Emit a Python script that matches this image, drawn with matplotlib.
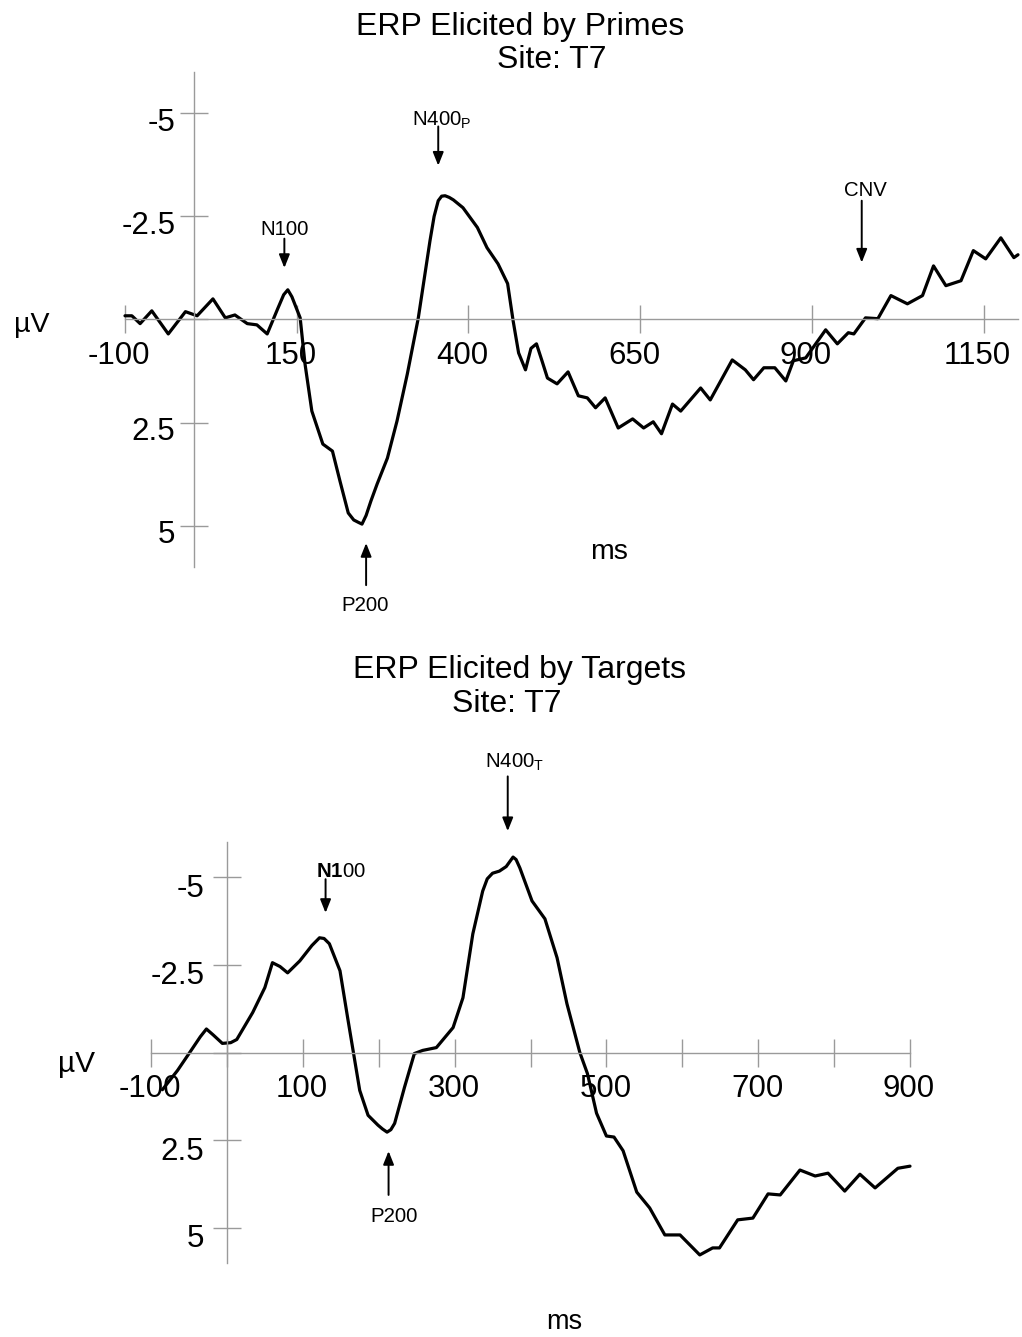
import matplotlib
matplotlib.use("Agg")
import matplotlib.pyplot as plt
from matplotlib.transforms import ScaledTranslation

plt.rcParams['font.family'] = ['Liberation Sans', 'DejaVu Sans']
plt.rcParams['mathtext.fontset'] = 'custom'
plt.rcParams['mathtext.rm'] = 'Liberation Sans'
plt.rcParams['mathtext.bf'] = 'Liberation Sans:bold'

# ---------------- data: primes (top) ----------------
primes_ms = [-100, -90, -78, -61, -37, -12, 5, 28, 46, 60, 78, 92, 107, 122, 131, 137,
             143, 155, 162, 172, 188, 202, 213, 225, 233, 240, 245, 251, 258, 267, 282,
             296, 311, 327, 344, 350, 356, 361, 366, 372, 378, 392, 413, 427, 443, 457,
             465, 473, 483, 491, 499, 507, 515, 529, 545, 560, 573, 585, 599, 618, 639,
             655, 669, 681, 697, 709, 738, 752, 784, 803, 815, 830, 846, 862, 873, 891,
             920, 937, 953, 961, 978, 996, 1015, 1039, 1061, 1077, 1095, 1117, 1135,
             1153, 1175, 1194, 1200]
primes_uv = [-0.09, -0.09, 0.10, -0.21, 0.35, -0.19, -0.09, -0.50, -0.04, -0.11, 0.10,
             0.13, 0.35, -0.25, -0.60, -0.72, -0.55, -0.04, 1.07, 2.22, 3.02, 3.19,
             3.92, 4.69, 4.86, 4.92, 4.96, 4.75, 4.40, 3.99, 3.36, 2.46, 1.32, -0.04,
             -1.91, -2.50, -2.88, -2.99, -3.00, -2.96, -2.90, -2.71, -2.23, -1.74,
             -1.35, -0.87, 0.03, 0.81, 1.22, 0.70, 0.59, 1.00, 1.42, 1.56, 1.27, 1.85,
             1.90, 2.14, 1.90, 2.63, 2.41, 2.63, 2.48, 2.77, 2.05, 2.22, 1.66, 1.95,
             0.98, 1.22, 1.46, 1.17, 1.17, 1.49, 1.00, 0.93, 0.25, 0.59, 0.32, 0.35,
             -0.04, -0.02, -0.58, -0.38, -0.58, -1.30, -0.82, -0.94, -1.67, -1.47,
             -1.98, -1.50, -1.57]

# ---------------- data: targets (bottom) ----------------
targets_ms = [-85, -65, -49, -35, -27, -18, -6, 5, 13, 34, 50, 60, 70, 80, 96, 112, 122,
              128, 135, 149, 159, 170, 175, 186, 199, 205, 211, 216, 221, 234, 247,
              258, 276, 298, 311, 324, 337, 343, 350, 359, 368, 377, 381, 386, 402,
              419, 435, 448, 465, 475, 487, 500, 510, 522, 540, 557, 577, 597, 623,
              640, 649, 673, 693, 713, 729, 755, 775, 792, 814, 834, 854, 884, 900]
targets_uv = [1.06, 0.51, 0.00, -0.45, -0.67, -0.50, -0.26, -0.28, -0.37, -1.14, -1.85,
              -2.56, -2.45, -2.27, -2.61, -3.05, -3.27, -3.25, -3.10, -2.33, -1.00,
              0.43, 1.08, 1.79, 2.07, 2.18, 2.27, 2.20, 2.02, 0.99, 0.03, -0.06, -0.14,
              -0.71, -1.56, -3.38, -4.60, -4.95, -5.11, -5.17, -5.30, -5.57, -5.50,
              -5.26, -4.32, -3.81, -2.70, -1.39, 0.00, 0.60, 1.73, 2.38, 2.41, 2.80,
              3.98, 4.43, 5.20, 5.20, 5.77, 5.57, 5.57, 4.77, 4.72, 4.03, 4.06, 3.35,
              3.52, 3.44, 3.95, 3.47, 3.86, 3.30, 3.24]

top_xticks = [-100, 150, 400, 650, 900, 1150]
bot_xticks = [-100, 0, 100, 200, 300, 400, 500, 600, 700, 800, 900]
bot_xlabels = ['-100', '', '100', '', '300', '', '500', '', '700', '', '900']
yticks = [-5, -2.5, 0, 2.5, 5]
ylabels = ['-5', '-2.5', '', '2.5', '5']

W, H = 1022, 1337
fig = plt.figure(figsize=(W / 100, H / 100), dpi=100)

def px_axes(x0, x1, y0, y1):
    return fig.add_axes([x0 / W, 1 - y1 / H, (x1 - x0) / W, (y1 - y0) / H])

GRAY = '#9a9a9a'

def style(ax, xlim, xticks, xlabels, ypad, xshift_px, yshift_px):
    ax.set_xlim(*xlim)
    ax.set_ylim(6, -6)
    for s in ['top', 'right']:
        ax.spines[s].set_visible(False)
    ax.spines['left'].set_position(('data', 0))
    ax.spines['bottom'].set_position(('data', 0))
    for s in ['left', 'bottom']:
        ax.spines[s].set_color(GRAY)
        ax.spines[s].set_linewidth(1.0)
    ax.set_xticks(xticks)
    ax.set_xticklabels(xlabels)
    ax.set_yticks(yticks)
    ax.set_yticklabels(ylabels)
    ax.tick_params(axis='both', direction='inout', length=19.5, width=1.0,
                   color=GRAY, labelsize=22.5, labelcolor='black')
    ax.tick_params(axis='x', pad=6)
    ax.tick_params(axis='y', pad=ypad)
    ax.patch.set_alpha(0)
    for lab in ax.get_xticklabels():
        lab.set_transform(lab.get_transform() +
                          ScaledTranslation(xshift_px / 100, 0, fig.dpi_scale_trans))
    for lab in ax.get_yticklabels():
        lab.set_transform(lab.get_transform() +
                          ScaledTranslation(0, -yshift_px / 100, fig.dpi_scale_trans))

def arrow(ax, x, y_tail, y_head):
    ax.annotate('', xy=(x, y_head), xytext=(x, y_tail), annotation_clip=False,
                arrowprops=dict(arrowstyle='-|>,head_length=0.8,head_width=0.32',
                                mutation_scale=10, lw=1.4, color='black',
                                shrinkA=0, shrinkB=0))

ANN = 14.7

# ---------------- top panel ----------------
ax1 = px_axes(125, 1018, 72, 567)
ax1.plot(primes_ms, primes_uv, color='black', lw=2.3, solid_joinstyle='round',
         solid_capstyle='round', clip_on=False)
style(ax1, (-100, 1200), top_xticks, [str(t) for t in top_xticks], 3.5, -6, 6)

ax1.text(132.5, -2.05, 'N100', fontsize=ANN, ha='center', va='baseline')
arrow(ax1, 132, -1.96, -1.25)
ax1.text(318, -4.70, r'N400$_{\mathrm{P}}$', fontsize=ANN, ha='left', va='baseline')
arrow(ax1, 356, -4.68, -3.73)
ax1.text(978, -3.0, 'CNV', fontsize=ANN, ha='center', va='baseline')
arrow(ax1, 972.5, -2.88, -1.38)
ax1.text(249, 6.71, 'P200', fontsize=ANN, ha='center', va='top', clip_on=False)
arrow(ax1, 251, 6.44, 5.42)

# ---------------- bottom panel ----------------
ax2 = px_axes(151, 910, 842, 1263)
ax2.plot(targets_ms, targets_uv, color='black', lw=2.3, solid_joinstyle='round',
         solid_capstyle='round', clip_on=False)
style(ax2, (-100, 900), bot_xticks, bot_xlabels, 6.5, -1, 8)

ax2.text(150, -5.0, r'$\mathbf{N1}$00', fontsize=ANN, ha='center', va='baseline')
arrow(ax2, 130, -4.94, -3.98)
ax2.text(339.7, -8.13, r'N400$_{\mathrm{T}}$', fontsize=ANN, ha='left', va='baseline')
arrow(ax2, 370, -7.87, -6.31)
ax2.text(219.8, 4.40, 'P200', fontsize=ANN, ha='center', va='top')
arrow(ax2, 213, 4.06, 2.81)

# ---------------- titles and axis names ----------------
def ftext(x, y, s, size, **kw):
    fig.text(x / W, 1 - y / H, s, fontsize=size, **kw)

TS = 23
ftext(520, 35, 'ERP Elicited by Primes', TS, ha='center', va='baseline')
ftext(552, 68, 'Site: T7', TS, ha='center', va='baseline')
ftext(519, 678, 'ERP Elicited by Targets', TS, ha='center', va='baseline')
ftext(507, 712, 'Site: T7', TS, ha='center', va='baseline')

ftext(32, 325, 'µV', 20.5, ha='center', va='center')
ftext(76, 1064, 'µV', 21.5, ha='center', va='center')
ftext(609, 552, 'ms', 20.5, ha='center', va='center')
ftext(564, 1322, 'ms', 19.5, ha='center', va='center')

fig.savefig('out.png', dpi=100, facecolor='white')
